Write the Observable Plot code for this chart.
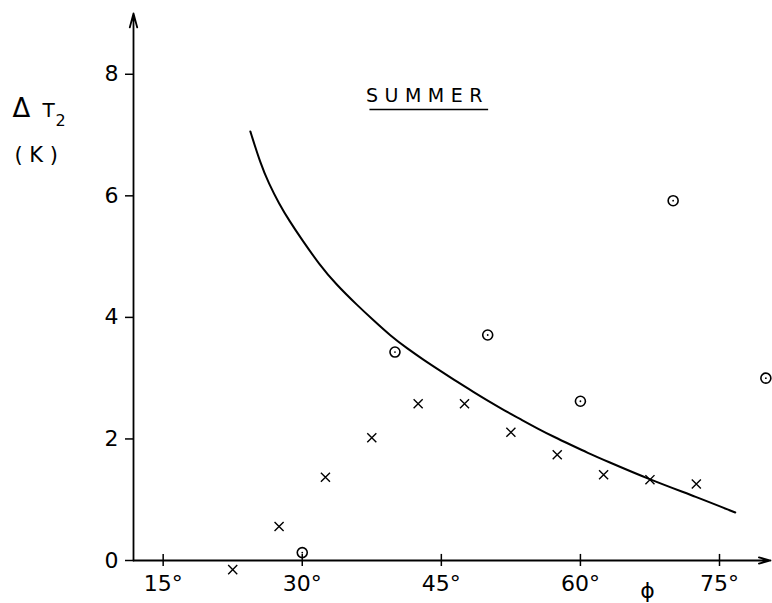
<!DOCTYPE html>
<html><head><meta charset="utf-8">
<script src="https://cdn.jsdelivr.net/npm/d3@7"></script>
<script src="https://cdn.jsdelivr.net/npm/@observablehq/plot@0.6"></script>
<style>
body{margin:0;background:#fff;}
</style>
</head><body><div id="chart"></div>
<script>
// crosses (x symbols)
const crossLat = [22.5, 27.5, 32.5, 37.5, 42.5, 47.5, 52.5, 57.5, 62.5, 67.5, 72.5];
const crossDT  = [-0.15, 0.56, 1.37, 2.02, 2.58, 2.58, 2.11, 1.74, 1.41, 1.33, 1.26];
// circles (dotted circle symbols)
const circleLat = [30, 40, 50, 60, 70, 80];
const circleDT  = [0.13, 3.43, 3.71, 2.62, 5.92, 3.0];
// theoretical curve
const curveLat = [24.4, 25.5, 26.4, 27.5, 28.6, 30.0, 31.8, 33.6, 36.0, 37.7, 39.5, 41.3, 43.1, 44.9, 46.7, 48.5, 50.0, 51.8, 53.6, 55.4, 57.2, 59.0, 60.8, 62.6, 67.5, 72.6, 76.7];
const curveDT  = [7.06, 6.53, 6.20, 5.87, 5.59, 5.27, 4.88, 4.55, 4.19, 3.95, 3.70, 3.49, 3.30, 3.12, 2.94, 2.77, 2.63, 2.47, 2.32, 2.17, 2.03, 1.90, 1.77, 1.65, 1.33, 1.04, 0.79];
// ticks
const xTicks = [15, 30, 45, 60, 75];
const yTicks = [0, 2, 4, 6, 8];
const xDomain = [11.8, 80.5];
const yDomain = [0, 9];

const crosses = crossLat.map((x, i) => ({x, y: crossDT[i]}));
const circles = circleLat.map((x, i) => ({x, y: circleDT[i]}));
const curve = curveLat.map((x, i) => ({x, y: curveDT[i]}));
const font = "DejaVu Sans";

const chart = Plot.plot({
  width: 772,
  height: 603,
  marginLeft: 133,
  marginRight: 2,
  marginTop: 13,
  marginBottom: 43,
  style: {fontFamily: font, fontSize: "22px", color: "#000", background: "#fff"},
  x: {domain: xDomain},
  y: {domain: yDomain},
  marks: [
    // axis lines with arrows
    Plot.arrow([{x1: xDomain[0], y1: yDomain[0], x2: xDomain[0], y2: yDomain[1]}],
      {x1: "x1", y1: "y1", x2: "x2", y2: "y2", stroke: "#000", strokeWidth: 1.8, headLength: 12, headAngle: 30}),
    Plot.arrow([{x1: xDomain[0], y1: yDomain[0], x2: xDomain[1], y2: yDomain[0]}],
      {x1: "x1", y1: "y1", x2: "x2", y2: "y2", stroke: "#000", strokeWidth: 1.8, headLength: 10, headAngle: 30}),
    Plot.axisY(yTicks, {tickSize: 8, tickPadding: 7, tickFormat: d => String(d), fontSize: 22, strokeWidth: 1.5}),
    Plot.axisX(xTicks, {tickSize: 6, tickPadding: 9, tickFormat: d => d + "°", fontSize: 22, strokeWidth: 1.5}),
    Plot.ruleX(xTicks, {x: d => d, y1: 0, y2: 0.1, stroke: "#000", strokeWidth: 1.5}),
    // curve
    Plot.line(curve, {x: "x", y: "y", curve: "basis", stroke: "#000", strokeWidth: 2}),
    // crosses
    Plot.dot(crosses, {x: "x", y: "y", symbol: "times", r: 4.2, stroke: "#000", strokeWidth: 1.4}),
    // circles with center dot
    Plot.dot(circles, {x: "x", y: "y", r: 5, stroke: "#000", strokeWidth: 1.6, fill: "none"}),
    Plot.dot(circles, {x: "x", y: "y", r: 0.9, fill: "#000"}),
    // SUMMER title with underline
    Plot.text(["SUMMER"], {x: 43.5, y: 7.64, text: d => d, fontSize: 19, textAnchor: "middle", lineAnchor: "middle"}),
    Plot.ruleY([7.42], {x1: 37.3, x2: 50.1, stroke: "#000", strokeWidth: 1.5}),
    // y-axis label
    Plot.text(["Δ"], {frameAnchor: "top-left", dx: -121, dy: 85, text: d => d, fontSize: 26, textAnchor: "start", lineAnchor: "top"}),
    Plot.text(["T"], {frameAnchor: "top-left", dx: -91, dy: 89, text: d => d, fontSize: 20, textAnchor: "start", lineAnchor: "top"}),
    Plot.text(["2"], {frameAnchor: "top-left", dx: -78, dy: 101, text: d => d, fontSize: 16, textAnchor: "start", lineAnchor: "top"}),
    Plot.text(["( K )"], {frameAnchor: "top-left", dx: -119, dy: 134, text: d => d, fontSize: 21, textAnchor: "start", lineAnchor: "top"}),
    // x-axis label
    Plot.text(["ϕ"], {frameAnchor: "bottom-left", dx: 514, dy: 37, text: d => d, fontSize: 22, textAnchor: "middle", lineAnchor: "bottom"})
  ]
});
d3.select(chart).selectAll("text").filter(function() { return this.textContent === "SUMMER"; })
  .attr("letter-spacing", "6.5px");
document.getElementById("chart").appendChild(chart);
</script>
</body></html>
